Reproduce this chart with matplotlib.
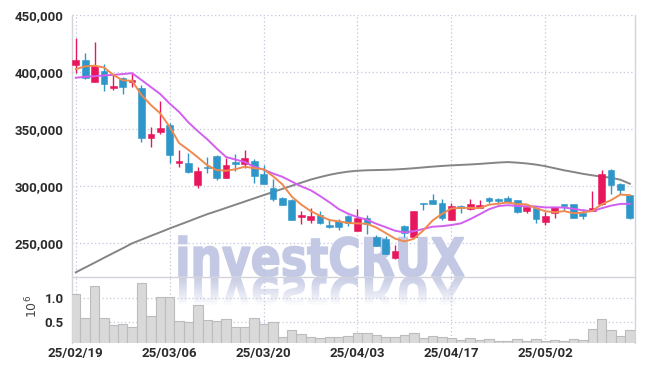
import numpy as np
import matplotlib
matplotlib.use("Agg")
import matplotlib.pyplot as plt
from matplotlib.patches import PathPatch, Rectangle
from matplotlib.textpath import TextPath
from matplotlib.path import Path
from matplotlib.font_manager import FontProperties
from matplotlib.ticker import FuncFormatter, FixedLocator
import matplotlib.colors as mcolors

# ---------------- data ----------------
dates = ["2025-02-19", "2025-02-20", "2025-02-21", "2025-02-24", "2025-02-25", "2025-02-26",
         "2025-02-27", "2025-02-28", "2025-03-04", "2025-03-05", "2025-03-06", "2025-03-07",
         "2025-03-10", "2025-03-11", "2025-03-12", "2025-03-13", "2025-03-14", "2025-03-17",
         "2025-03-18", "2025-03-19", "2025-03-20", "2025-03-21", "2025-03-24", "2025-03-25",
         "2025-03-26", "2025-03-27", "2025-03-28", "2025-03-31", "2025-04-01", "2025-04-02",
         "2025-04-03", "2025-04-04", "2025-04-07", "2025-04-08", "2025-04-09", "2025-04-10",
         "2025-04-11", "2025-04-14", "2025-04-15", "2025-04-16", "2025-04-17", "2025-04-18",
         "2025-04-21", "2025-04-22", "2025-04-23", "2025-04-24", "2025-04-25", "2025-04-28",
         "2025-04-29", "2025-04-30", "2025-05-02", "2025-05-07", "2025-05-08", "2025-05-09",
         "2025-05-12", "2025-05-13", "2025-05-14", "2025-05-15", "2025-05-16", "2025-05-19"]

opens = [406000, 410500, 391500, 401000, 386000, 395000, 391500, 386000, 342500, 347000,
         353500, 320500, 320000, 301000, 317000, 326300, 307300, 321000, 319600, 322000,
         310500, 298000, 289500, 288000, 273000, 270200, 274500, 265800, 269300, 273700,
         260800, 271600, 255000, 253800, 237100, 265000, 255500, 285000, 287700, 285400,
         270200, 282500, 280100, 281000, 289800, 288600, 289500, 287700, 278400, 281000,
         268700, 276600, 284200, 284200, 276600, 278400, 283900, 314000, 301700, 292100]
highs = [430000, 417000, 426500, 407000, 397500, 396000, 399000, 389000, 351500, 375000,
         355000, 331500, 329000, 317000, 325500, 327000, 325000, 328500, 332000, 323500,
         318500, 306000, 290500, 288500, 278000, 281000, 278500, 271500, 271000, 274600,
         279500, 274600, 256700, 255800, 248000, 265500, 278300, 285200, 293000, 288300,
         285400, 283300, 289000, 287400, 290300, 289200, 291200, 288000, 282000, 281300,
         277000, 281900, 284400, 284500, 280000, 296000, 314000, 314600, 303000, 292500]
lows = [399000, 394000, 391000, 383500, 384000, 380500, 386500, 339000, 334000, 346000,
        320000, 317000, 311500, 298000, 311500, 305500, 307000, 313500, 316000, 303000,
        301500, 287000, 283000, 270000, 266500, 267800, 267000, 263000, 261000, 264600,
        260500, 258000, 247000, 240000, 236300, 255000, 255000, 279000, 284000, 270200,
        270000, 276000, 279000, 280400, 284800, 284000, 285400, 276000, 276000, 267200,
        265800, 271600, 279000, 271600, 270800, 278000, 283300, 292700, 293000, 270800]
closes = [410500, 395000, 405000, 389500, 387500, 386500, 393000, 342500, 345500, 351000,
          327500, 322000, 312500, 313000, 316000, 306700, 318700, 319300, 324300, 309000,
          302000, 288500, 283500, 270500, 274500, 273700, 268000, 264300, 264300, 267800,
          271600, 266400, 247700, 240600, 243300, 259000, 278000, 284200, 284500, 272200,
          282500, 280400, 284500, 283300, 287100, 287100, 286000, 277500, 281600, 270800,
          273700, 281300, 282700, 272200, 274000, 280400, 310500, 300900, 296500, 271600]
volumes = [1090000, 594000, 1263000, 594000, 430000, 450000, 400000, 1320000, 620000, 1020000,
           1020000, 515000, 494000, 857000, 550000, 530000, 573000, 400000, 400000, 594000,
           450000, 494000, 188000, 337000, 252000, 188000, 158000, 195000, 195000, 216000,
           265000, 280000, 237000, 195000, 195000, 237000, 280000, 173000, 216000, 188000,
           173000, 130000, 166000, 130000, 145000, 100000, 100000, 145000, 109000, 145000,
           109000, 123000, 109000, 145000, 130000, 359000, 573000, 337000, 209000, 337000]
ma_short = [402500, 405000, 405500, 404000, 397500, 392700, 392300, 379800, 371000, 363700,
            351900, 337700, 331700, 325200, 318200, 314000, 313400, 314700, 317000, 315600,
            314700, 308600, 301500, 290700, 283800, 278100, 274000, 270200, 269000, 267600,
            267200, 266900, 263600, 258800, 253900, 251400, 253700, 261000, 269800, 275600,
            280300, 280800, 280800, 280600, 283600, 284500, 285600, 284200, 283900, 280600,
            277900, 277000, 278000, 276100, 276800, 278100, 284000, 287600, 292500, 292000]
ma_mid = [395000, 395800, 396300, 397000, 397500, 398200, 399000, 393000, 386800, 380600,
          372300, 365000, 355800, 348100, 341000, 333000, 325500, 323200, 321100, 316900,
          314400, 311000, 308100, 303900, 299700, 296400, 291300, 285800, 279800, 275700,
          272700, 270500, 266900, 263900, 260800, 259300, 260300, 262300, 264300, 264800,
          265800, 267200, 270900, 275200, 279600, 282400, 283200, 282500, 282200, 282100,
          281200, 281300, 281100, 280000, 278700, 278000, 280500, 282800, 284300, 284400]
ma_long = [224300, 228500, 232700, 237000, 241200, 245400, 249700, 253000, 256300, 259500,
           262800, 265900, 269000, 272200, 275300, 278000, 280800, 283600, 286400, 289200,
           292000, 294700, 297500, 300200, 302900, 305600, 307800, 309800, 311400, 312600,
           313400, 313800, 314000, 314200, 314500, 315000, 315600, 316300, 317000, 317600,
           318100, 318500, 318900, 319400, 320000, 320600, 321000, 320500, 319800, 318800,
           317400, 315600, 313800, 312300, 310700, 309400, 308200, 307300, 305500, 302000]

tick_idx = [0, 10, 20, 30, 40, 50]
tick_labels = [dates[i][2:].replace("-", "/") for i in tick_idx]
price_ticks = [250000, 300000, 350000, 400000, 450000]
vol_ticks = [500000, 1000000]

# ---------------- style ----------------
W, H = 645, 371
UP = "#e8175d"
DOWN = "#2e96c9"
GRID = "#c3c7dc"
SPINE = "#d3d3dc"
LABEL_FONT = dict(family=["Roboto", "DejaVu Sans"], weight="bold", size=9.5)

fig = plt.figure(figsize=(W / 100, H / 100), dpi=100)
fig.patch.set_facecolor("white")

# background axes for watermark (pixel coordinates)
bg = fig.add_axes([0, 0, 1, 1], zorder=0)
bg.set_xlim(0, W)
bg.set_ylim(0, H)
bg.axis("off")

L, R, T, M, B = 72, 635, 15, 277, 343
ax = fig.add_axes([L / W, 1 - M / H, (R - L) / W, (M - T) / H], zorder=2)
axv = fig.add_axes([L / W, 1 - B / H, (R - L) / W, (B - M) / H], zorder=2, sharex=ax)
for a in (ax, axv):
    a.patch.set_visible(False)

x = np.arange(len(dates))
o = np.array(opens); c = np.array(closes); h = np.array(highs); lo = np.array(lows)
up = c >= o
cols = np.where(up, UP, DOWN)

# wicks
ax.vlines(x, lo, h, colors=cols, linewidth=1.0, zorder=3)
# bodies
bottoms = np.minimum(o, c)
heights = np.maximum(np.abs(c - o), 600)
ax.bar(x, heights, bottom=bottoms, width=0.72, color=cols, edgecolor=cols,
       linewidth=0.4, zorder=4)

# moving averages
ax.plot(x, ma_long, color="#858585", lw=1.4, zorder=2)
ax.plot(x, ma_mid, color="#d25ff0", lw=1.4, zorder=5)
ax.plot(x, ma_short, color="#ef8a4e", lw=1.4, zorder=6)

ax.set_xlim(-0.4, 59.55)
ax.set_ylim(220200, 450000)
ax.yaxis.set_major_locator(FixedLocator(price_ticks))
ax.yaxis.set_major_formatter(FuncFormatter(lambda v, p: f"{v:,.0f}"))
ax.xaxis.set_major_locator(FixedLocator(tick_idx))
ax.tick_params(axis="x", labelbottom=False, length=0)
ax.tick_params(axis="y", length=0, pad=6, colors="#2b2b2b")
for lab in ax.get_yticklabels():
    lab.set_fontproperties(FontProperties(**LABEL_FONT))

# volume
axv.bar(x, volumes, width=1.0, color="#d9d9d9", edgecolor="#bcbcbc", linewidth=0.8, zorder=3)
axv.set_ylim(60000, 1450000)
axv.yaxis.set_major_locator(FixedLocator(vol_ticks))
axv.yaxis.set_major_formatter(FuncFormatter(lambda v, p: f"{v / 1e6:.1f}"))
axv.xaxis.set_major_locator(FixedLocator(tick_idx))
axv.set_xticklabels(tick_labels)
axv.tick_params(axis="both", length=0, colors="#2b2b2b")
axv.tick_params(axis="y", pad=6)
axv.tick_params(axis="x", pad=3)
for lab in axv.get_yticklabels() + axv.get_xticklabels():
    lab.set_fontproperties(FontProperties(**LABEL_FONT))

for a in (ax, axv):
    a.grid(True, linestyle=(0, (1, 2)), color=GRID, linewidth=0.9, zorder=1)
    a.set_axisbelow(True)
    for s in a.spines.values():
        s.set_color(SPINE)
        s.set_linewidth(1.0)
ax.spines["top"].set_visible(False)
axv.spines["top"].set_visible(False)
axv.spines["bottom"].set_visible(False)

fig.text(32 / W, 1 - 306 / H, r"$10^6$", rotation=90, ha="center", va="center",
         fontsize=9, color="#444444")

# ---------------- watermark ----------------
fp = FontProperties(family=["DejaVu Sans", "Liberation Sans"], weight="bold")
tp = TextPath((0, 0), "investCRUX", size=1, prop=fp)
ext = tp.get_extents()
x0, x1 = 179, 464
base = H - 276
sx = (x1 - x0) / ext.width
sy = 40 / ext.y1
verts = tp.vertices.copy()
main_path = Path(np.column_stack([(verts[:, 0] - ext.x0) * sx + x0, verts[:, 1] * sy + base]),
                 tp.codes)
ref_path = Path(np.column_stack([(verts[:, 0] - ext.x0) * sx + x0, base - 1 - verts[:, 1] * sy]),
                tp.codes)
wm_rgb = mcolors.to_rgb("#c3c9e4")
bg.add_patch(PathPatch(main_path, facecolor=wm_rgb, edgecolor=wm_rgb, linewidth=1.2, zorder=1))

# reflection: mirrored copy, faded downward by white overlay bands
bg.add_patch(PathPatch(ref_path, facecolor=wm_rgb, edgecolor="none", alpha=0.9, zorder=1))
n_fade = 28
for k in range(n_fade + 20):
    top = base - 1 - k
    a_w = min(1.0, (k / n_fade) ** 1.2)
    bg.add_patch(Rectangle((x0 - 15, top - 1), (x1 - x0) + 30, 1,
                           facecolor="white", edgecolor="none", alpha=a_w, zorder=2))

fig.savefig("out.png", dpi=100, facecolor="white")
